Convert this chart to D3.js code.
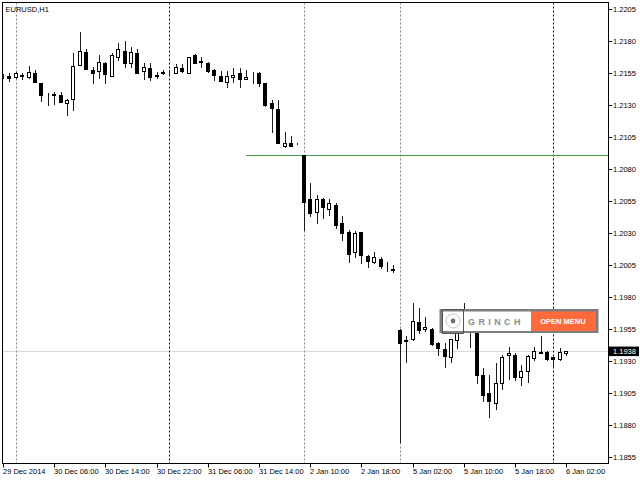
<!DOCTYPE html>
<html>
<head>
<meta charset="utf-8">
<script src="https://cdn.jsdelivr.net/npm/d3@7"></script>
<style>
  html, body { margin: 0; padding: 0; background: #ffffff; }
  svg { display: block; }
  text { font-family: "Liberation Sans", Arial, sans-serif; }
</style>
</head>
<body>
<svg id="chart" width="640" height="480"></svg>
<script>
// ---------------- DATA ----------------
const symbolTitle = "EURUSD,H1";

const openPrices = [
  1.21530, 1.21525, 1.21519, 1.21533, 1.21519, 1.21555, 1.21477, 1.21381, 1.21388, 1.21381,
  1.21316, 1.21347, 1.21615, 1.21719, 1.21576, 1.21568, 1.21628, 1.21529, 1.21675, 1.21724,
  1.21628, 1.21711, 1.21568, 1.21589, 1.21533, 1.21560, 1.21563, 1.21550, 1.21589, 1.21555,
  1.21693, 1.21646, 1.21628, 1.21576, 1.21529, 1.21484, 1.21519, 1.21550, 1.21503, 1.21537,
  1.21555, 1.21472, 1.21320, 1.21271, 1.20982, 1.21003, 1.21003, 1.20912, 1.20566, 1.20469,
  1.20566, 1.20487, 1.20521, 1.20383, 1.20312, 1.20152, 1.20312, 1.20123, 1.20078, 1.20099,
  1.20037, 1.20021, 1.19545, 1.19466, 1.19472, 1.19609, 1.19550, 1.19550, 1.19445, 1.19394,
  1.19331, 1.19466, 1.19560, 1.19638, 1.19576, 1.19193, 1.19050, 1.18977, 1.19128, 1.19347,
  1.19349, 1.19180, 1.19227, 1.19328, 1.19375, 1.19375, 1.19331, 1.19316, 1.19362
];
const highPrices = [
  1.21545, 1.21550, 1.21560, 1.21555, 1.21607, 1.21576, 1.21478, 1.21398, 1.21406, 1.21406,
  1.21349, 1.21711, 1.21875, 1.21740, 1.21602, 1.21693, 1.21641, 1.21706, 1.21784, 1.21805,
  1.21753, 1.21738, 1.21628, 1.21633, 1.21563, 1.21576, 1.21576, 1.21623, 1.21623, 1.21677,
  1.21698, 1.21675, 1.21641, 1.21580, 1.21570, 1.21568, 1.21589, 1.21589, 1.21576, 1.21563,
  1.21557, 1.21474, 1.21341, 1.21341, 1.21094, 1.21060, 1.21005, 1.20912, 1.20691, 1.20599,
  1.20576, 1.20566, 1.20539, 1.20435, 1.20326, 1.20318, 1.20314, 1.20127, 1.20154, 1.20112,
  1.20078, 1.20052, 1.19550, 1.19498, 1.19753, 1.19714, 1.19644, 1.19560, 1.19451, 1.19441,
  1.19474, 1.19584, 1.19753, 1.19670, 1.19607, 1.19245, 1.19193, 1.19284, 1.19349, 1.19414,
  1.19362, 1.19271, 1.19349, 1.19414, 1.19500, 1.19377, 1.19336, 1.19402, 1.19380
];
const lowPrices = [
  1.21513, 1.21492, 1.21517, 1.21508, 1.21517, 1.21482, 1.21336, 1.21302, 1.21310, 1.21326,
  1.21224, 1.21263, 1.21611, 1.21580, 1.21472, 1.21511, 1.21472, 1.21525, 1.21654, 1.21602,
  1.21602, 1.21552, 1.21503, 1.21498, 1.21511, 1.21541, 1.21545, 1.21549, 1.21564, 1.21552,
  1.21627, 1.21602, 1.21564, 1.21498, 1.21490, 1.21441, 1.21482, 1.21441, 1.21502, 1.21472,
  1.21451, 1.21295, 1.21094, 1.21002, 1.20972, 1.20982, 1.21001, 1.20326, 1.20438, 1.20378,
  1.20417, 1.20443, 1.20339, 1.20248, 1.20078, 1.20112, 1.20066, 1.20034, 1.20066, 1.20027,
  1.20008, 1.20000, 1.18670, 1.19297, 1.19470, 1.19519, 1.19539, 1.19427, 1.19349, 1.19253,
  1.19297, 1.19402, 1.19545, 1.19414, 1.19128, 1.18992, 1.18862, 1.18925, 1.19081, 1.19159,
  1.19154, 1.19115, 1.19141, 1.19310, 1.19361, 1.19314, 1.19253, 1.19314, 1.19349
];
const closePrices = [
  1.21527, 1.21517, 1.21550, 1.21525, 1.21563, 1.21484, 1.21381, 1.21377, 1.21384, 1.21328,
  1.21344, 1.21607, 1.21724, 1.21584, 1.21555, 1.21641, 1.21545, 1.21693, 1.21738, 1.21633,
  1.21719, 1.21555, 1.21597, 1.21519, 1.21529, 1.21556, 1.21559, 1.21602, 1.21568, 1.21675,
  1.21628, 1.21638, 1.21568, 1.21537, 1.21492, 1.21529, 1.21537, 1.21503, 1.21523, 1.21533,
  1.21472, 1.21302, 1.21281, 1.21003, 1.21003, 1.20984, 1.21002, 1.20547, 1.20461, 1.20566,
  1.20503, 1.20534, 1.20365, 1.20300, 1.20136, 1.20300, 1.20130, 1.20086, 1.20112, 1.20045,
  1.20033, 1.20017, 1.19445, 1.19462, 1.19617, 1.19545, 1.19566, 1.19435, 1.19402, 1.19341,
  1.19472, 1.19519, 1.19662, 1.19576, 1.19193, 1.19037, 1.18992, 1.19128, 1.19331, 1.19367,
  1.19175, 1.19224, 1.19344, 1.19380, 1.19362, 1.19316, 1.19316, 1.19370, 1.19380
];

const timeTickBars   = [0, 8, 16, 24, 32, 40, 48, 56, 64, 72, 80, 88];
const timeTickLabels = ["29 Dec 2014", "30 Dec 06:00", "30 Dec 14:00", "30 Dec 22:00",
                        "31 Dec 06:00", "31 Dec 14:00", "2 Jan 10:00", "2 Jan 18:00",
                        "5 Jan 02:00", "5 Jan 10:00", "5 Jan 18:00", "6 Jan 02:00"];
const priceTicks = [1.1855, 1.1880, 1.1905, 1.1930, 1.1955, 1.1980, 1.2005, 1.2030,
                    1.2055, 1.2080, 1.2105, 1.2130, 1.2155, 1.2180, 1.2205];
const daySeparatorBars = [2, 26, 47, 62, 86];
const daySeparatorDark = [false, true, false, false, true];
const bidPrice = 1.1938;
const levelPrice = 1.2091;
const levelStartBar = 38;
const widgetName = "GRINCH";
const widgetButton = "OPEN MENU";

// ---------------- CHART ----------------
const svg = d3.select("#chart");
const L = 2.5, T = 2.5, R = 608.5, B = 463.5;

const x = d3.scaleLinear().domain([0, 94.53]).range([3, 608]);
const y = d3.scaleLinear().domain([1.1855, 1.2205]).range([457.3, 9.3]);
const snap = v => Math.round(v) + 0.5;

svg.append("rect").attr("width", 640).attr("height", 480).attr("fill", "#ffffff");

svg.append("defs").append("clipPath").attr("id", "plot")
  .append("rect").attr("x", L).attr("y", T).attr("width", R - L).attr("height", B - T);

const plot = svg.append("g").attr("clip-path", "url(#plot)");

// bid line
plot.append("line")
  .attr("x1", L).attr("x2", R)
  .attr("y1", snap(y(bidPrice))).attr("y2", snap(y(bidPrice)))
  .attr("stroke", "#ddd5da").attr("stroke-width", 1);

// day separators
plot.selectAll("line.sep").data(daySeparatorBars).join("line")
  .attr("class", "sep")
  .attr("x1", d => snap(x(d))).attr("x2", d => snap(x(d)))
  .attr("y1", T).attr("y2", B)
  .attr("stroke", (d, i) => daySeparatorDark[i] ? "#000000" : "#8a8a8a")
  .attr("stroke-width", 1)
  .attr("stroke-dasharray", "2,2");

// horizontal level line
plot.append("line")
  .attr("x1", x(levelStartBar)).attr("x2", R)
  .attr("y1", snap(y(levelPrice))).attr("y2", snap(y(levelPrice)))
  .attr("stroke", "#3f9f3f").attr("stroke-width", 1);

// candles
const candles = openPrices.map((o, i) => ({
  i, o, h: highPrices[i], l: lowPrices[i], c: closePrices[i]
}));

const cg = plot.selectAll("g.candle").data(candles).join("g").attr("class", "candle");
cg.append("line")
  .attr("x1", d => Math.round(x(d.i)) + 0.5)
  .attr("x2", d => Math.round(x(d.i)) + 0.5)
  .attr("y1", d => Math.round(y(d.h)))
  .attr("y2", d => Math.round(y(d.l)) + 1)
  .attr("stroke", "#1a1a1a").attr("stroke-width", 1);
cg.append("rect")
  .attr("x", d => Math.round(x(d.i)) - 1.5)
  .attr("width", 3)
  .attr("y", d => Math.round(y(Math.max(d.o, d.c))) + 0.5)
  .attr("height", d => Math.max(0, Math.round(y(Math.min(d.o, d.c))) - Math.round(y(Math.max(d.o, d.c)))))
  .attr("fill", d => d.c > d.o ? "#ffffff" : "#000000")
  .attr("stroke", "#000000").attr("stroke-width", 1);

// frame
svg.append("rect")
  .attr("x", L).attr("y", T).attr("width", R - L).attr("height", B - T)
  .attr("fill", "none").attr("stroke", "#000000").attr("stroke-width", 1);

// title
svg.append("text").attr("x", 5.5).attr("y", 12).attr("font-size", "7.5px")
  .attr("fill", "#000").text(symbolTitle);

// price axis
const pa = svg.append("g");
pa.selectAll("line").data(priceTicks).join("line")
  .attr("x1", R).attr("x2", R + 3.5)
  .attr("y1", d => snap(y(d))).attr("y2", d => snap(y(d)))
  .attr("stroke", "#000");
pa.selectAll("text").data(priceTicks).join("text")
  .attr("x", 613).attr("y", d => y(d) + 2.7)
  .attr("font-size", "7.5px").attr("fill", "#000")
  .text(d => d.toFixed(4));

// bid price label
const by = y(bidPrice);
svg.append("rect").attr("x", 609).attr("y", by - 4.5).attr("width", 30).attr("height", 9.5)
  .attr("fill", "#000");
svg.append("text").attr("x", 613).attr("y", by + 3)
  .attr("font-size", "7.5px").attr("fill", "#fff").text(bidPrice.toFixed(4));

// time axis
const ta = svg.append("g");
ta.selectAll("line").data(timeTickBars).join("line")
  .attr("x1", d => snap(x(d))).attr("x2", d => snap(x(d)))
  .attr("y1", B).attr("y2", B + 4)
  .attr("stroke", "#000");
ta.selectAll("text").data(timeTickBars).join("text")
  .attr("x", d => Math.round(x(d)))
  .attr("y", 474)
  .attr("font-size", "7.5px").attr("fill", "#000")
  .text((d, i) => timeTickLabels[i]);

// widget overlay
const w = svg.append("g");
w.append("rect").attr("x", 439.5).attr("y", 309).attr("width", 159).attr("height", 24)
  .attr("fill", "#7d7d7d");
w.append("rect").attr("x", 442).attr("y", 311.5).attr("width", 89).attr("height", 19.5)
  .attr("fill", "#ffffff");
w.append("rect").attr("x", 531).attr("y", 311.5).attr("width", 65).attr("height", 19.5)
  .attr("fill", "#ff6a3c");
w.append("rect").attr("x", 442.5).attr("y", 309.5).attr("width", 21).attr("height", 24)
  .attr("fill", "none").attr("stroke", "#555").attr("stroke-width", 1);
w.append("circle").attr("cx", 453).attr("cy", 321).attr("r", 7)
  .attr("fill", "none").attr("stroke", "#c4c4c4").attr("stroke-width", 1);
w.append("circle").attr("cx", 453).attr("cy", 321).attr("r", 2.4).attr("fill", "#707070");
w.append("text").attr("x", 468).attr("y", 324.5)
  .attr("font-size", "9px").attr("font-weight", "bold").attr("fill", "#8c8c8c")
  .attr("letter-spacing", "3.4px").text(widgetName);
w.append("text").attr("x", 563).attr("y", 324.3).attr("text-anchor", "middle")
  .attr("font-size", "7.5px").attr("font-weight", "bold").attr("fill", "#ffffff")
  .text(widgetButton);
</script>
</body>
</html>
